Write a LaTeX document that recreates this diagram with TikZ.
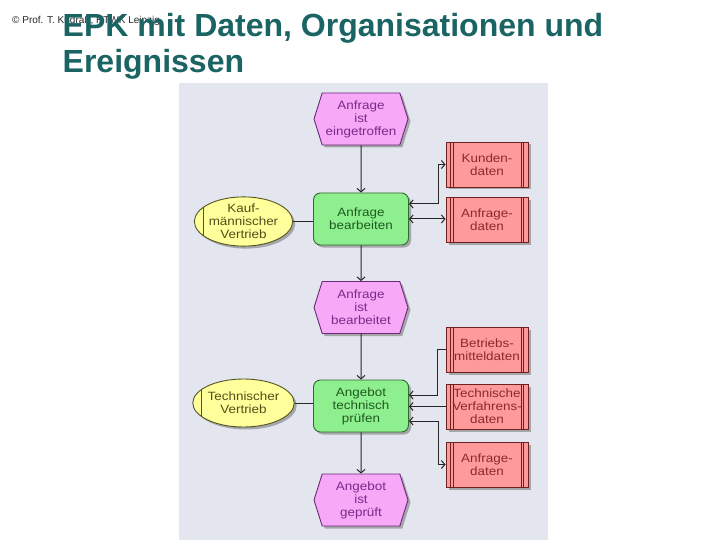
\documentclass[tikz,border=0pt]{standalone}
\usepackage{fontspec}
\setmainfont{Liberation Sans}
\newfontfamily\nodefont[FakeStretch=1.12]{Liberation Sans}
\usetikzlibrary{shapes.symbols,shapes.geometric,arrows.meta,shadows}
\definecolor{titlecol}{HTML}{1B6464}
\definecolor{panelcol}{HTML}{E3E5EF}
\definecolor{evfill}{HTML}{F7A8F7}
\definecolor{evtext}{HTML}{7A2A88}
\definecolor{evline}{HTML}{6A2A78}
\definecolor{fnfill}{HTML}{8EEF8E}
\definecolor{fntext}{HTML}{1F5A1F}
\definecolor{fnline}{HTML}{2F6A2F}
\definecolor{orgfill}{HTML}{FFFF9C}
\definecolor{orgtext}{HTML}{505018}
\definecolor{orgline}{HTML}{555520}
\definecolor{dafill}{HTML}{FF9A9A}
\definecolor{datext}{HTML}{8A2A2A}
\definecolor{daline}{HTML}{702020}
\begin{document}
\begin{tikzpicture}[x=1pt,y=-1pt,
  shd/.style={drop shadow={shadow xshift=2.5pt,shadow yshift=-2.5pt,fill=black!55,opacity=0.55}},
  lbl/.style={font=\nodefont\fontsize{12}{13}\selectfont,align=center},
  event/.style={lbl,shd,signal,signal to=east and west,signal pointer angle=145,
    minimum width=94pt,minimum height=52pt,inner sep=0pt,
    fill=evfill,draw=evline,line width=0.9pt,text=evtext},
  func/.style={lbl,shd,rectangle,rounded corners=7pt,minimum width=95pt,minimum height=52pt,
    inner sep=0pt,fill=fnfill,draw=fnline,line width=0.9pt,text=fntext},
  org/.style={lbl,shd,ellipse,minimum width=93pt,minimum height=48pt,inner sep=0pt,
    fill=orgfill,draw=orgline,line width=0.9pt,text=orgtext,
    path picture={\draw[orgline,line width=0.9pt]
      ([xshift=9pt,yshift=-30pt]path picture bounding box.west) --
      ([xshift=9pt,yshift=30pt]path picture bounding box.west);}},
  data/.style={lbl,shd,rectangle,minimum width=82pt,minimum height=45pt,inner sep=0pt,
    fill=dafill,draw=daline,line width=0.9pt,text=datext,
    path picture={
      \draw[daline,line width=0.7pt]
        ([xshift=4.5pt]path picture bounding box.north west) -- ([xshift=4.5pt]path picture bounding box.south west)
        ([xshift=7pt]path picture bounding box.north west) -- ([xshift=7pt]path picture bounding box.south west)
        ([xshift=-4.5pt]path picture bounding box.north east) -- ([xshift=-4.5pt]path picture bounding box.south east)
        ([xshift=-7pt]path picture bounding box.north east) -- ([xshift=-7pt]path picture bounding box.south east);}},
  conn/.style={line width=1pt,black!85,>={Straight Barb[length=3.5pt,width=8pt]}}
]
\useasboundingbox (0,0) rectangle (720,540);
\fill[white] (0,0) rectangle (720,540);
\fill[panelcol] (179,83) rectangle (548,540);

\node[anchor=base west,inner sep=0pt,font=\fontsize{10}{12}\selectfont,text=black!85] (copy) at (12,24) {\copyright{} Prof. T. Kudraß, HTWK Leipzig};
\node[anchor=base west,inner sep=0pt,font=\bfseries\fontsize{32}{36}\selectfont,text=titlecol] (title1) at (62.5,37) {EPK mit Daten, Organisationen und};
\node[anchor=base west,inner sep=0pt,font=\bfseries\fontsize{32}{36}\selectfont,text=titlecol] (title2) at (62.5,73) {Ereignissen};

\node[event] (e1) at (361,119) {Anfrage\\ist\\eingetroffen};
\node[func] (f1) at (361,219) {Anfrage\\bearbeiten};
\node[event] (e2) at (361,307.5) {Anfrage\\ist\\bearbeitet};
\node[func] (f2) at (361,406) {Angebot\\technisch\\prüfen};
\node[event] (e3) at (361,500) {Angebot\\ist\\geprüft};

\node[org] (o1) at (243.5,221.5) {Kauf-\\männischer\\Vertrieb};
\node[org] (o2) at (243.5,403) {Technischer\\Vertrieb};

\node[data] (d1) at (487,164.5) {Kunden-\\daten};
\node[data] (d2) at (487,220) {Anfrage-\\daten};
\node[data] (d3) at (487,349.5) {Betriebs-\\mitteldaten};
\node[data] (d4) at (487,406.5) {Technische\\Verfahrens-\\daten};
\node[data] (d5) at (487,464.5) {Anfrage-\\daten};

\draw[conn,->] (e1) -- (f1);
\draw[conn,->] (f1) -- (e2);
\draw[conn,->] (e2) -- (f2);
\draw[conn,->] (f2) -- (e3);

\draw[conn] (o1.east) -- (o1.east -| f1.west);
\draw[conn] (o2.east) -- (o2.east -| f2.west);

\draw[conn,<->] ([yshift=15pt]f1.east) -- ++(30,0) |- (d1.west);
\draw[conn,<->] (f1.east) -- (f1.east -| d2.west);
\draw[conn,->] (d3.west) -- ++(-8,0) |- ([yshift=11pt]f2.east);
\draw[conn,->] (d4.west) -- (d4.west -| f2.east);
\draw[conn,<->] ([yshift=-15pt]f2.east) -- ++(30,0) |- (d5.west);
\end{tikzpicture}
\end{document}
